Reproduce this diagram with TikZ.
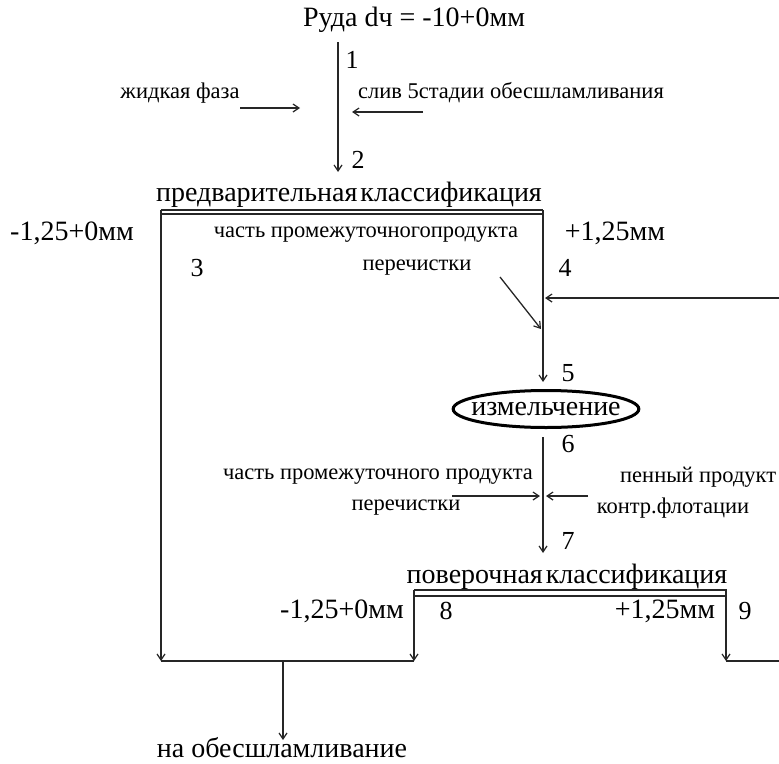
\documentclass[tikz,border=0pt]{standalone}
\usepackage{fontspec}
\setmainfont{Liberation Serif}
\usetikzlibrary{arrows.meta,shapes.geometric}
\begin{document}
\begin{tikzpicture}[x=1pt,y=-1pt,
  flow/.style={line width=1.3pt,draw=black!85},
  arr/.style={flow,-{Straight Barb[length=6pt,width=8pt,line width=1.2pt]}},
  big/.style={inner sep=0pt,font=\fontsize{28}{32}\selectfont},
  small/.style={inner sep=0pt,font=\fontsize{22.5}{26}\selectfont},
  num/.style={inner sep=0pt,font=\fontsize{26}{30}\selectfont},
  mill/.style={ellipse,draw,line width=3pt,inner xsep=-9pt,inner ysep=0pt,minimum height=37pt,font=\fontsize{28}{32}\selectfont}]
\useasboundingbox (0,0) rectangle (779,763);

% feed
\node[big] (ore) at (414,20) {Руда dч = -10+0мм};
\coordinate (feedtop) at (338,42);
\coordinate (feedbot) at (338,172);
\draw[arr] (feedtop) -- (feedbot);
\node[num] (n1) at (352,60) {1};
\node[num] (n2) at (358,160) {2};

% water and slime overflow
\node[small] (water) at (180,93) {жидкая фаза};
\coordinate (waterA) at (240,108);
\coordinate (waterB) at (300,108);
\draw[arr] (waterA) -- (waterB);
\node[small] (slime) at (511,93) {слив 5стадии обесшламливания};
\coordinate (slimeA) at (423,112);
\coordinate (slimeB) at (352,112);
\draw[arr] (slimeA) -- (slimeB);

% preliminary classification
\node[big] (precl) at (349,195) {предварительная\hspace{3pt}классификация};
\coordinate (pL) at (161,210);
\coordinate (pR) at (543,210);
\draw[flow] (pL) -- (pR);
\draw[flow] (161,214) -- (543,214);
\node[big] (pfine) at (72,233) {-1,25+0мм};
\node[big] (pcoarse) at (615,233) {+1,25мм};
\node[small] (mid1) at (366,235) {часть промежуточногопродукта};
\node[small] (mid1b) at (417,268) {перечистки};
\node[num] (n3) at (197,268) {3};
\node[num] (n4) at (565,268) {4};

% coarse to the mill
\coordinate (millin) at (543,382);
\draw[arr] (pR) -- (millin);
\coordinate (diagA) at (500,277);
\coordinate (diagB) at (541,329);
\draw[arr] (diagA) -- (diagB);
\coordinate (recA) at (779,298);
\coordinate (recB) at (545,298);
\draw[arr] (recA) -- (recB);
\node[num] (n5) at (568,373) {5};

% grinding
\node[mill] (grind) at (546,409) {измельчение};
\coordinate (millout) at (543,437);
\coordinate (chkin) at (543,553);
\draw[arr] (millout) -- (chkin);
\node[num] (n6) at (568,444) {6};
\node[num] (n7) at (568,541) {7};
\node[small] (mid2) at (378,477) {часть промежуточного продукта};
\node[small] (mid2b) at (406,508) {перечистки};
\coordinate (midA) at (452,496);
\coordinate (midB) at (540,496);
\draw[arr] (midA) -- (midB);
\node[small,anchor=west] (froth) at (620,477) {пенный продукт};
\node[small] (frothb) at (673,508) {контр.флотации};
\coordinate (frA) at (588,496);
\coordinate (frB) at (546,496);
\draw[arr] (frA) -- (frB);

% control classification
\node[big] (chkcl) at (567,577) {поверочная\hspace{3pt}классификация};
\coordinate (cL) at (414,590);
\coordinate (cR) at (727,590);
\draw[flow] (cL) -- (cR);
\draw[flow] (414,596) -- (727,596);
\node[big] (cfine) at (342,611) {-1,25+0мм};
\node[num] (n8) at (446,611) {8};
\node[big] (ccoarse) at (665,611) {+1,25мм};
\node[num] (n9) at (745,611) {9};

% products
\coordinate (jL) at (161,661);
\coordinate (jM) at (414,661);
\coordinate (jR) at (726,661);
\coordinate (jE) at (779,661);
\draw[arr] (pL) -- (jL);
\draw[arr] (cL) -- (jM);
\draw[arr] (726,590) -- (jR);
\draw[flow] (jL) -- (jM);
\draw[flow] (jR) -- (jE);
\coordinate (outA) at (283,661);
\coordinate (outB) at (283,740);
\draw[arr] (outA) -- (outB);
\node[big,anchor=base] (deslime) at (282,757) {на обесшламливание};
\end{tikzpicture}
\end{document}
